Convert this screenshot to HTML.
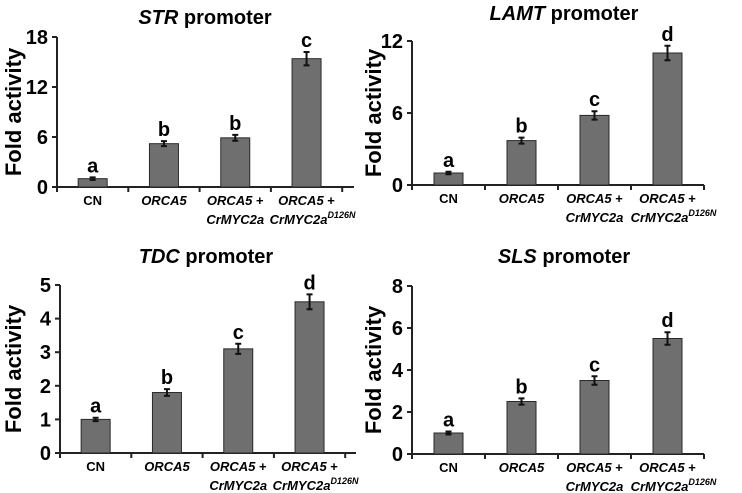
<!DOCTYPE html>
<html><head><meta charset="utf-8"><style>
body{margin:0;background:#fff}
svg{display:block;font-family:"Liberation Sans",Arial,sans-serif;font-weight:bold}
</style></head><body>
<svg id="c" width="742" height="493" viewBox="0 0 742 493"></svg>
<script>
const categories=["CN","ORCA5","ORCA5 +|CrMYC2a","ORCA5 +|CrMYC2a^D126N"];
const strValues=[1,5.2,5.9,15.4];
const strErrors=[0.15,0.3,0.35,0.8];
const strLetters=["a","b","b","c"];
const strTicks=[0,6,12,18];
const lamtValues=[1,3.7,5.8,11];
const lamtErrors=[0.1,0.25,0.35,0.6];
const lamtLetters=["a","b","c","d"];
const lamtTicks=[0,6,12];
const tdcValues=[1,1.8,3.1,4.5];
const tdcErrors=[0.05,0.1,0.15,0.22];
const tdcLetters=["a","b","c","d"];
const tdcTicks=[0,1,2,3,4,5];
const slsValues=[1,2.5,3.5,5.5];
const slsErrors=[0.07,0.15,0.2,0.3];
const slsLetters=["a","b","c","d"];
const slsTicks=[0,2,4,6,8];

const NS="http://www.w3.org/2000/svg";
const svg=document.getElementById("c");
function mk(tag,attrs,parent,text){const e=document.createElementNS(NS,tag);for(const k in attrs)e.setAttribute(k,attrs[k]);if(text!==undefined)e.textContent=text;(parent||svg).appendChild(e);return e;}

function panel(cfg){
  const g=mk("g",{});
  
  
  const max=cfg.ticks[cfg.ticks.length-1];
  const y=v=>cfg.y0-(cfg.y0-cfg.yTop)*v/max;
  const step=cfg.step;
  const x=i=>cfg.x0+step*(i+0.5);
  const t=mk("text",{x:cfg.titleX,y:cfg.titleY,"text-anchor":"middle","font-size":20},g);
  
  
  mk("tspan",{"font-style":"italic"},t,cfg.label);
  mk("tspan",{},t," promoter");
  const yl=mk("text",{x:0,y:0,"text-anchor":"middle","font-size":22,transform:`translate(${cfg.ylx},${(cfg.y0+cfg.yTop)/2}) rotate(-90)`},g,"Fold activity");
  
  
  const ax=mk("path",{d:`M${cfg.x0},${cfg.yTop}V${cfg.y0}H${cfg.xEnd}`,stroke:"#222","stroke-width":2,fill:"none"},g);
  
  
  cfg.ticks.forEach(tv=>{
    mk("line",{x1:cfg.x0-5,x2:cfg.x0,y1:y(tv),y2:y(tv),stroke:"#222","stroke-width":2},g);
    const tl=mk("text",{x:cfg.x0-9,y:y(tv)+7,"text-anchor":"end","font-size":20},g,tv);
    
    
  });
  for(let i=0;i<=4;i++)mk("line",{x1:cfg.x0+step*i,x2:cfg.x0+step*i,y1:cfg.y0,y2:cfg.y0+5,stroke:"#222","stroke-width":2},g);
  const bw=29;
  cfg.values.forEach((v,i)=>{
    const b=mk("rect",{x:x(i)-bw/2,y:y(v),width:bw,height:cfg.y0-y(v),fill:"#6f6f6f",stroke:"#2a2a2a","stroke-width":1},g);
    
    
    const e=cfg.errors[i],yt=y(v+e),yb=y(v-e);
    const eb=mk("path",{d:`M${x(i)},${yt}V${yb}M${x(i)-3},${yt}H${x(i)+3}M${x(i)-3},${yb}H${x(i)+3}`,stroke:"#111","stroke-width":2,fill:"none"},g);
    
    
    const l=mk("text",{x:x(i),y:yt-5,"text-anchor":"middle","font-size":20},g,cfg.letters[i]);
    
    
  });
  categories.forEach((c,i)=>{
    const lines=c.split("|");
    lines.forEach((ln,j)=>{
      const tx=mk("text",{x:x(i)+(j==1&&i==3?6:0),y:cfg.y0+18+j*19,"text-anchor":"middle","font-size":13,"font-style":c==="CN"?"normal":"italic"},g);
      
      
      if(ln.endsWith(" +")){mk("tspan",{},tx,ln.slice(0,-2));mk("tspan",{"font-style":"normal"},tx," +");}
      else if(ln.includes("^")){const p=ln.split("^");mk("tspan",{},tx,p[0]);mk("tspan",{"font-size":9,dy:-6},tx,p[1]);}
      else tx.textContent=ln;
    });
  });
}
panel({name:"str",label:"STR",values:strValues,errors:strErrors,letters:strLetters,ticks:strTicks,x0:57,step:71.3,xEnd:354,y0:187,yTop:37,titleX:205,titleY:24,ylx:21});
panel({name:"lamt",label:"LAMT",values:lamtValues,errors:lamtErrors,letters:lamtLetters,ticks:lamtTicks,x0:412,step:73,xEnd:704,y0:185,yTop:41,titleX:564,titleY:20,ylx:381});
panel({name:"tdc",label:"TDC",values:tdcValues,errors:tdcErrors,letters:tdcLetters,ticks:tdcTicks,x0:60,step:71.3,xEnd:356,y0:453,yTop:285,titleX:206,titleY:263,ylx:21});
panel({name:"sls",label:"SLS",values:slsValues,errors:slsErrors,letters:slsLetters,ticks:slsTicks,x0:412,step:73,xEnd:704,y0:454,yTop:286,titleX:564,titleY:263,ylx:381});
</script>
</body></html>
